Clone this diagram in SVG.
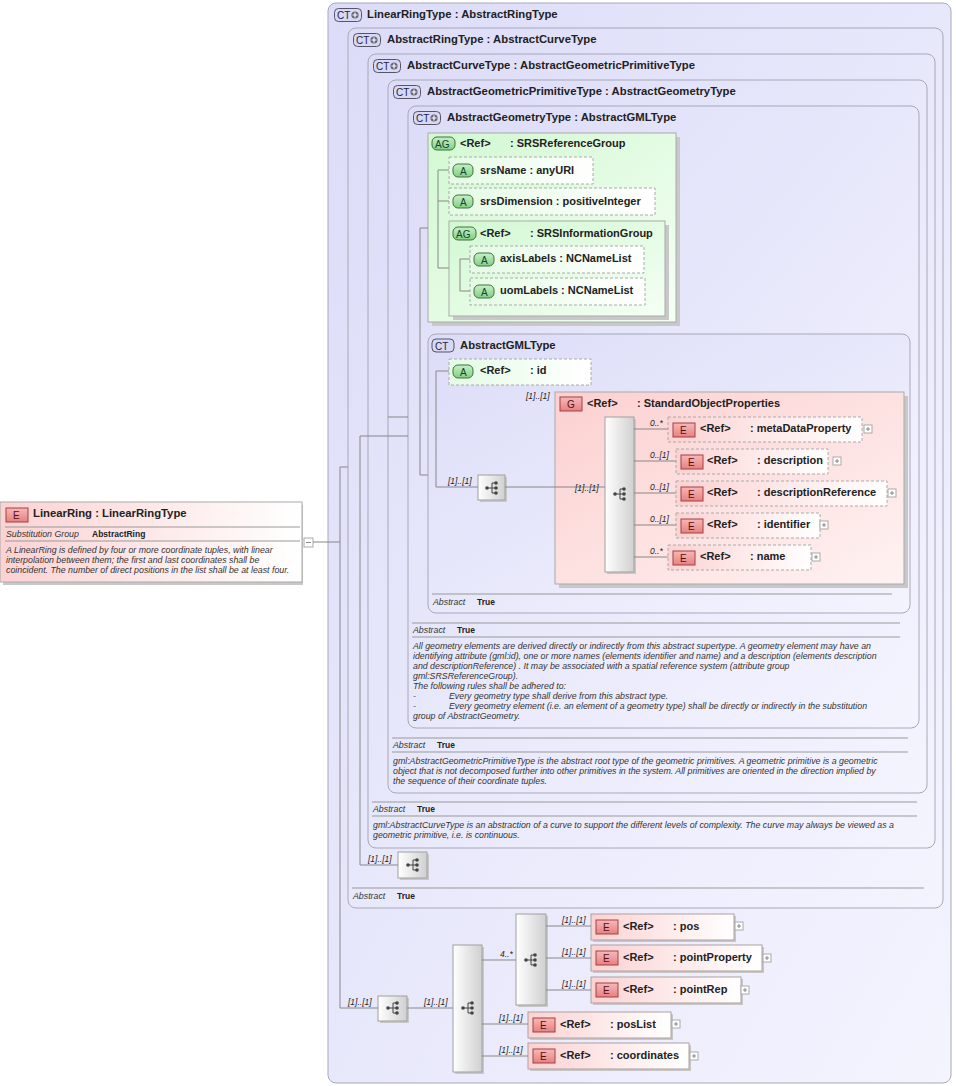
<svg xmlns="http://www.w3.org/2000/svg" width="956" height="1086" viewBox="0 0 956 1086">
<defs>
<linearGradient id="gb" x1="0" y1="0" x2="1" y2="1"><stop offset="0" stop-color="#dcdcf8"/><stop offset="1" stop-color="#f4f4ff"/></linearGradient>
<linearGradient id="gp" x1="0" y1="0" x2="1" y2="0"><stop offset="0" stop-color="#fcd2d2"/><stop offset="1" stop-color="#ffffff"/></linearGradient>
<linearGradient id="gpb" x1="0" y1="0" x2="1" y2="1"><stop offset="0" stop-color="#fcd0d0"/><stop offset="1" stop-color="#fff2f2"/></linearGradient>
<linearGradient id="gg" x1="0" y1="0" x2="1" y2="1"><stop offset="0" stop-color="#d2f8d2"/><stop offset="1" stop-color="#f4fff4"/></linearGradient>
<linearGradient id="ga" x1="0" y1="0" x2="1" y2="0"><stop offset="0" stop-color="#e4fbe4"/><stop offset="1" stop-color="#ffffff"/></linearGradient>
<linearGradient id="gs" x1="0" y1="0" x2="1" y2="0"><stop offset="0" stop-color="#ffffff"/><stop offset="1" stop-color="#d0d0d0"/></linearGradient>
<linearGradient id="gbe" x1="0" y1="0" x2="0" y2="1"><stop offset="0" stop-color="#f8b8b8"/><stop offset="1" stop-color="#e88080"/></linearGradient>
<linearGradient id="gba" x1="0" y1="0" x2="0" y2="1"><stop offset="0" stop-color="#c8f0c8"/><stop offset="1" stop-color="#80d080"/></linearGradient>
<symbol id="si" viewBox="0 0 16 16"><circle cx="3" cy="8" r="1.8" fill="#444"/><path d="M3 8H8M8 3V13M8 3H12M8 8H12M8 13H12" stroke="#444" fill="none"/><circle cx="12" cy="3" r="1.8" fill="#444"/><circle cx="12" cy="8" r="1.8" fill="#444"/><circle cx="12" cy="13" r="1.8" fill="#444"/></symbol>
<symbol id="ct" viewBox="0 0 28 14"><rect x="0.5" y="0.5" width="27" height="13" rx="4" fill="#d8d8f4" stroke="#556"/><text x="3" y="11" font-family="Liberation Sans,sans-serif" font-size="10" fill="#224">CT</text><circle cx="21" cy="7" r="3.6" fill="#667"/><path d="M21 4.5V9.5M18.5 7H23.5" stroke="#fff" stroke-width="1.2"/></symbol>
</defs>
<style>
.b{fill:url(#gb);stroke:#a8a8b8;stroke-width:1}
.t{font-family:"Liberation Sans",Arial,sans-serif;font-size:11.3px;font-weight:bold;fill:#222}
.n{font-family:"Liberation Sans",Arial,sans-serif;font-size:11px;font-weight:bold;fill:#222}
.i{font-family:"Liberation Sans",Arial,sans-serif;font-size:8.8px;font-style:italic;fill:#333}
.k{font-family:"Liberation Sans",Arial,sans-serif;font-size:8.5px;font-weight:bold;fill:#222}
.c{font-family:"Liberation Sans",Arial,sans-serif;font-size:8.5px;font-style:italic;fill:#222}
.e{fill:url(#gp);stroke:#b0a0a0}
.ed{fill:url(#gp);stroke:#aaa;stroke-dasharray:3,2}
.a{fill:url(#ga);stroke:#aaa;stroke-dasharray:3,2}
.sh{fill:#c8c8c8}
.be{fill:url(#gbe);stroke:#a04040}
.ba{fill:url(#gba);stroke:#407040}
.s{fill:url(#gs);stroke:#a0a0a0}
.l{stroke:#888;fill:none}
.dv{stroke:#999;fill:none}
.pl{fill:#fff;stroke:#aaa}
</style>

<g id="linearRingType">
<rect class="b" x="328" y="3" width="623" height="1080" rx="8"/>
<use href="#ct" x="334" y="8" width="28" height="14"/>
<text class="t" x="367" y="18">LinearRingType : AbstractRingType</text>
</g>
<g id="abstractRingType">
<rect class="b" x="348" y="28" width="595" height="880" rx="8"/>
<use href="#ct" x="353" y="33" width="28" height="14"/>
<text class="t" x="387" y="43">AbstractRingType : AbstractCurveType</text>
<path class="dv" d="M352 888H924"/>
<text class="i" x="353" y="899">Abstract</text><text class="k" x="397" y="899">True</text>
</g>
<g id="abstractCurveType">
<rect class="b" x="368" y="54" width="567" height="794" rx="8"/>
<use href="#ct" x="373" y="59" width="28" height="14"/>
<text class="t" x="407" y="69">AbstractCurveType : AbstractGeometricPrimitiveType</text>
<path class="dv" d="M372 802H917M372 816H917"/>
<text class="i" x="373" y="812">Abstract</text><text class="k" x="417" y="812">True</text>
<text class="i" x="373" y="828">gml:AbstractCurveType is an abstraction of a curve to support the different levels of complexity. The curve may always be viewed as a</text>
<text class="i" x="373" y="838">geometric primitive, i.e. is continuous.</text>
</g>
<g id="abstractGeometricPrimitiveType">
<rect class="b" x="388" y="80" width="539" height="713" rx="8"/>
<use href="#ct" x="393" y="85" width="28" height="14"/>
<text class="t" x="427" y="95">AbstractGeometricPrimitiveType : AbstractGeometryType</text>
<path class="dv" d="M392 738H908M392 752H908"/>
<text class="i" x="393" y="748">Abstract</text><text class="k" x="437" y="748">True</text>
<text class="i" x="393" y="764">gml:AbstractGeometricPrimitiveType is the abstract root type of the geometric primitives. A geometric primitive is a geometric</text>
<text class="i" x="393" y="774">object that is not decomposed further into other primitives in the system. All primitives are oriented in the direction implied by</text>
<text class="i" x="393" y="784">the sequence of their coordinate tuples.</text>
</g>
<g id="abstractGeometryType">
<rect class="b" x="408" y="106" width="511" height="622" rx="8"/>
<use href="#ct" x="413" y="111" width="28" height="14"/>
<text class="t" x="447" y="121">AbstractGeometryType : AbstractGMLType</text>
<path class="dv" d="M412 623H900M412 637H900"/>
<text class="i" x="413" y="633">Abstract</text><text class="k" x="457" y="633">True</text>
<text class="i" x="413" y="649">All geometry elements are derived directly or indirectly from this abstract supertype. A geometry element may have an</text>
<text class="i" x="413" y="659">identifying attribute (gml:id), one or more names (elements identifier and name) and a description (elements description</text>
<text class="i" x="413" y="669">and descriptionReference) . It may be associated with a spatial reference system (attribute group</text>
<text class="i" x="413" y="679">gml:SRSReferenceGroup).</text>
<text class="i" x="413" y="689">The following rules shall be adhered to:</text>
<text class="i" x="413" y="699">-</text><text class="i" x="449" y="699">Every geometry type shall derive from this abstract type.</text>
<text class="i" x="413" y="709">-</text><text class="i" x="449" y="709">Every geometry element (i.e. an element of a geometry type) shall be directly or indirectly in the substitution</text>
<text class="i" x="413" y="719">group of AbstractGeometry.</text>
</g>

<g id="srsReferenceGroup">
<rect class="sh" x="432" y="137" width="248" height="189"/>
<rect x="428" y="133" width="248" height="189" fill="url(#gg)" stroke="#aaa"/>
<rect class="ba" x="432" y="137" width="23" height="13" rx="5"/>
<text x="435" y="148" font-family="Liberation Sans,sans-serif" font-size="10" fill="#143">AG</text>
<text class="n" x="460" y="147">&lt;Ref&gt;</text><text class="n" x="510" y="147">: SRSReferenceGroup</text>
</g>
<g id="srsName">
<rect class="a" x="449" y="157" width="144" height="27"/>
<rect class="ba" x="453" y="164" width="20" height="13" rx="5"/><text x="460" y="175" font-family="Liberation Sans,sans-serif" font-size="10" fill="#143">A</text>
<text class="n" x="480" y="174">srsName : anyURI</text>
</g>
<g id="srsDimension">
<rect class="a" x="449" y="188" width="206" height="27"/>
<rect class="ba" x="453" y="195" width="20" height="13" rx="5"/><text x="460" y="206" font-family="Liberation Sans,sans-serif" font-size="10" fill="#143">A</text>
<text class="n" x="480" y="205">srsDimension : positiveInteger</text>
</g>
<g id="srsInformationGroup">
<rect class="sh" x="453" y="225" width="216" height="95"/>
<rect x="449" y="221" width="216" height="95" fill="url(#gg)" stroke="#aaa"/>
<rect class="ba" x="453" y="227" width="23" height="13" rx="5"/>
<text x="456" y="238" font-family="Liberation Sans,sans-serif" font-size="10" fill="#143">AG</text>
<text class="n" x="480" y="237">&lt;Ref&gt;</text><text class="n" x="530" y="237">: SRSInformationGroup</text>
</g>
<g id="axisLabels">
<rect class="a" x="470" y="246" width="174" height="27"/>
<rect class="ba" x="474" y="253" width="20" height="13" rx="5"/><text x="481" y="264" font-family="Liberation Sans,sans-serif" font-size="10" fill="#143">A</text>
<text class="n" x="500" y="262">axisLabels : NCNameList</text>
</g>
<g id="uomLabels">
<rect class="a" x="470" y="278" width="175" height="27"/>
<rect class="ba" x="474" y="285" width="20" height="13" rx="5"/><text x="481" y="296" font-family="Liberation Sans,sans-serif" font-size="10" fill="#143">A</text>
<text class="n" x="500" y="294">uomLabels : NCNameList</text>
</g>

<g id="abstractGMLType">
<rect class="b" x="428" y="334" width="482" height="279" rx="8"/>
<rect x="432" y="339" width="22" height="13" rx="4" fill="#d8d8f4" stroke="#556"/>
<text x="435" y="350" font-family="Liberation Sans,sans-serif" font-size="10" fill="#224">CT</text>
<text class="t" x="460" y="349">AbstractGMLType</text>
<path class="dv" d="M432 594H892"/>
<text class="i" x="433" y="605">Abstract</text><text class="k" x="477" y="605">True</text>
</g>
<g id="idAttr">
<rect class="a" x="449" y="359" width="142" height="26"/>
<rect class="ba" x="453" y="365" width="20" height="13" rx="5"/><text x="460" y="376" font-family="Liberation Sans,sans-serif" font-size="10" fill="#143">A</text>
<text class="n" x="480" y="374">&lt;Ref&gt;</text><text class="n" x="530" y="374">: id</text>
</g>
<g id="seqGML">
<rect class="sh" x="480" y="477" width="27" height="25"/>
<rect class="s" x="478" y="475" width="27" height="25"/>
<use href="#si" x="484" y="480" width="16" height="16"/>
</g>
<g id="standardObjectProperties">
<rect class="sh" x="559" y="396" width="349" height="192"/>
<rect x="555" y="392" width="349" height="192" fill="url(#gpb)" stroke="#aaa"/>
<rect class="be" x="560" y="397" width="22" height="14"/>
<text x="567" y="408" font-family="Liberation Sans,sans-serif" font-size="10" fill="#511">G</text>
<text class="n" x="587" y="407">&lt;Ref&gt;</text><text class="n" x="637" y="407">: StandardObjectProperties</text>
</g>
<g id="seqSOP">
<rect class="sh" x="607" y="419" width="29" height="155"/>
<rect class="s" x="605" y="417" width="29" height="155"/>
<use href="#si" x="612" y="486" width="16" height="16"/>
</g>
<g id="metaDataProperty">
<rect class="ed" x="668" y="417" width="194" height="25"/>
<rect class="be" x="673" y="423" width="22" height="14"/><text x="680" y="434" font-family="Liberation Sans,sans-serif" font-size="10" fill="#511">E</text>
<text class="n" x="700" y="432">&lt;Ref&gt;</text><text class="n" x="750" y="432">: metaDataProperty</text>
<rect class="pl" x="864" y="425" width="8" height="8"/><path class="l" d="M866 429H870M868 427V431"/>
</g>
<g id="description">
<rect class="ed" x="676" y="449" width="152" height="25"/>
<rect class="be" x="681" y="455" width="22" height="14"/><text x="688" y="466" font-family="Liberation Sans,sans-serif" font-size="10" fill="#511">E</text>
<text class="n" x="707" y="464">&lt;Ref&gt;</text><text class="n" x="757" y="464">: description</text>
<rect class="pl" x="833" y="457" width="8" height="8"/><path class="l" d="M835 461H839M837 459V463"/>
</g>
<g id="descriptionReference">
<rect class="ed" x="676" y="481" width="211" height="25"/>
<rect class="be" x="681" y="487" width="22" height="14"/><text x="688" y="498" font-family="Liberation Sans,sans-serif" font-size="10" fill="#511">E</text>
<text class="n" x="707" y="496">&lt;Ref&gt;</text><text class="n" x="757" y="496">: descriptionReference</text>
<rect class="pl" x="888" y="489" width="8" height="8"/><path class="l" d="M890 493H894M892 491V495"/>
</g>
<g id="identifier">
<rect class="ed" x="676" y="513" width="144" height="25"/>
<rect class="be" x="681" y="519" width="22" height="14"/><text x="688" y="530" font-family="Liberation Sans,sans-serif" font-size="10" fill="#511">E</text>
<text class="n" x="707" y="528">&lt;Ref&gt;</text><text class="n" x="757" y="528">: identifier</text>
<rect class="pl" x="820" y="521" width="8" height="8"/><path class="l" d="M822 525H826M824 523V527"/>
</g>
<g id="name">
<rect class="ed" x="668" y="545" width="143" height="25"/>
<rect class="be" x="673" y="551" width="22" height="14"/><text x="680" y="562" font-family="Liberation Sans,sans-serif" font-size="10" fill="#511">E</text>
<text class="n" x="700" y="560">&lt;Ref&gt;</text><text class="n" x="750" y="560">: name</text>
<rect class="pl" x="812" y="553" width="8" height="8"/><path class="l" d="M814 557H818M816 555V559"/>
</g>

<g id="seqRing">
<rect class="sh" x="400" y="854" width="29" height="26"/>
<rect class="s" x="398" y="852" width="29" height="26"/>
<use href="#si" x="405" y="857" width="16" height="16"/>
</g>

<g id="linearRing">
<rect class="sh" x="3" y="505" width="300" height="80"/>
<rect x="0" y="502" width="302" height="80" fill="url(#gp)" stroke="#aaa"/>
<rect class="be" x="6" y="508" width="22" height="14"/><text x="13" y="519" font-family="Liberation Sans,sans-serif" font-size="10" fill="#511">E</text>
<text class="t" x="33" y="517">LinearRing : LinearRingType</text>
<path class="dv" d="M5 527H300M5 541H300"/>
<text class="i" x="6" y="537">Substitution Group</text><text class="k" x="92" y="537">AbstractRing</text>
<text class="i" x="6" y="553">A LinearRing is defined by four or more coordinate tuples, with linear</text>
<text class="i" x="6" y="563">interpolation between them; the first and last coordinates shall be</text>
<text class="i" x="6" y="573">coincident. The number of direct positions in the list shall be at least four.</text>
<rect class="pl" x="304" y="538" width="9" height="9"/><path class="l" d="M306 542.5H311"/>
</g>

<g id="seqMain">
<rect class="sh" x="380" y="998" width="29" height="25"/>
<rect class="s" x="378" y="996" width="29" height="25"/>
<use href="#si" x="385" y="1000" width="16" height="16"/>
</g>
<g id="choiceMain">
<rect class="sh" x="455" y="947" width="29" height="127"/>
<rect class="s" x="453" y="945" width="29" height="127"/>
<use href="#si" x="460" y="1000" width="16" height="16"/>
</g>
<g id="choicePoints">
<rect class="sh" x="518" y="916" width="30" height="91"/>
<rect class="s" x="516" y="914" width="30" height="91"/>
<use href="#si" x="523" y="952" width="16" height="16"/>
</g>
<g id="pos">
<rect class="sh" x="593" y="916" width="143" height="26"/>
<rect class="e" x="591" y="914" width="143" height="26"/>
<rect class="be" x="596" y="920" width="22" height="14"/><text x="603" y="931" font-family="Liberation Sans,sans-serif" font-size="10" fill="#511">E</text>
<text class="n" x="623" y="930">&lt;Ref&gt;</text><text class="n" x="673" y="930">: pos</text>
<rect class="pl" x="735" y="922" width="8" height="8"/><path class="l" d="M737 926H741M739 924V928"/>
</g>
<g id="pointProperty">
<rect class="sh" x="593" y="947" width="171" height="26"/>
<rect class="e" x="591" y="945" width="171" height="26"/>
<rect class="be" x="596" y="951" width="22" height="14"/><text x="603" y="962" font-family="Liberation Sans,sans-serif" font-size="10" fill="#511">E</text>
<text class="n" x="623" y="961">&lt;Ref&gt;</text><text class="n" x="673" y="961">: pointProperty</text>
<rect class="pl" x="763" y="954" width="8" height="8"/><path class="l" d="M765 958H769M767 956V960"/>
</g>
<g id="pointRep">
<rect class="sh" x="593" y="979" width="150" height="26"/>
<rect class="e" x="591" y="977" width="150" height="26"/>
<rect class="be" x="596" y="983" width="22" height="14"/><text x="603" y="994" font-family="Liberation Sans,sans-serif" font-size="10" fill="#511">E</text>
<text class="n" x="623" y="993">&lt;Ref&gt;</text><text class="n" x="673" y="993">: pointRep</text>
<rect class="pl" x="741" y="986" width="8" height="8"/><path class="l" d="M743 990H747M745 988V992"/>
</g>
<g id="posList">
<rect class="sh" x="530" y="1014" width="143" height="26"/>
<rect class="e" x="528" y="1012" width="143" height="26"/>
<rect class="be" x="533" y="1018" width="22" height="14"/><text x="540" y="1029" font-family="Liberation Sans,sans-serif" font-size="10" fill="#511">E</text>
<text class="n" x="560" y="1028">&lt;Ref&gt;</text><text class="n" x="610" y="1028">: posList</text>
<rect class="pl" x="672" y="1020" width="8" height="8"/><path class="l" d="M674 1024H678M676 1022V1026"/>
</g>
<g id="coordinates">
<rect class="sh" x="530" y="1045" width="161" height="26"/>
<rect class="e" x="528" y="1043" width="161" height="26"/>
<rect class="be" x="533" y="1049" width="22" height="14"/><text x="540" y="1060" font-family="Liberation Sans,sans-serif" font-size="10" fill="#511">E</text>
<text class="n" x="560" y="1059">&lt;Ref&gt;</text><text class="n" x="610" y="1059">: coordinates</text>
<rect class="pl" x="690" y="1052" width="8" height="8"/><path class="l" d="M692 1056H696M694 1054V1058"/>
</g>

<g id="connectors">
<path class="l" d="M313 542H340M340 467V1008M340 467H348M340 1008H378"/>
<path class="l" d="M360 436V865M360 436H408M360 865H398"/>
<path class="l" d="M388 417H408M420 228V475M420 228H428M420 475H428"/>
<path class="l" d="M438 170V268M438 170H449M438 201H449M438 268H449"/>
<path class="l" d="M460 259V291M460 259H470M460 291H470"/>
<path class="l" d="M436 371V487M436 371H449M436 487H478M505 487H605"/>
<path class="l" d="M634 429H668M634 461H676M634 493H676M634 525H676M634 557H668"/>
<path class="l" d="M407 1008H453M482 960H516M546 926H591M546 958H591M546 990H591M482 1024H528M482 1056H528"/>
<text class="c" x="448" y="484">[1]..[1]</text>
<text class="c" x="526" y="399">[1]..[1]</text>
<text class="c" x="575" y="491">[1]..[1]</text>
<text class="c" x="650" y="426">0..*</text>
<text class="c" x="650" y="458">0..[1]</text>
<text class="c" x="650" y="490">0..[1]</text>
<text class="c" x="650" y="522">0..[1]</text>
<text class="c" x="650" y="554">0..*</text>
<text class="c" x="368" y="862">[1]..[1]</text>
<text class="c" x="348" y="1005">[1]..[1]</text>
<text class="c" x="424" y="1005">[1]..[1]</text>
<text class="c" x="500" y="957">4..*</text>
<text class="c" x="562" y="923">[1]..[1]</text>
<text class="c" x="562" y="955">[1]..[1]</text>
<text class="c" x="562" y="987">[1]..[1]</text>
<text class="c" x="499" y="1021">[1]..[1]</text>
<text class="c" x="499" y="1053">[1]..[1]</text>
</g>
</svg>
